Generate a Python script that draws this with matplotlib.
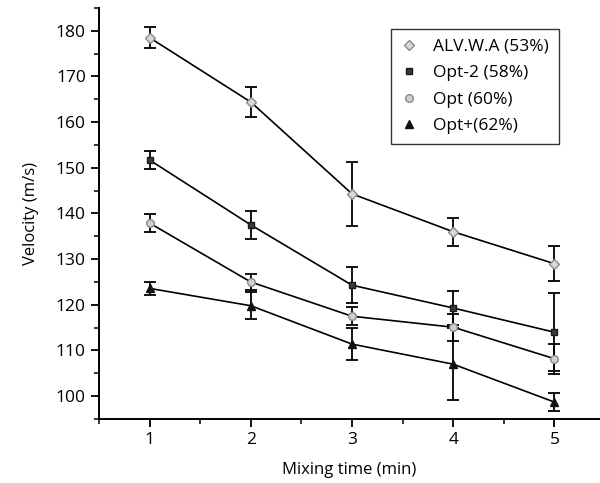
import numpy as np
import matplotlib

matplotlib.use("Agg")
import matplotlib.pyplot as plt
from matplotlib.lines import Line2D
from matplotlib.ticker import MultipleLocator

mix_time = [1, 2, 3, 4, 5]
series_names = ["ALV.W.A (53%)", "Opt-2 (58%)", "Opt (60%)", "Opt+(62%)"]
alv = [178.5, 164.4, 144.3, 136.0, 129.0]
alv_err = [2.3, 3.2, 7.0, 3.1, 3.8]
opt2 = [151.7, 137.5, 124.3, 119.3, 114.0]
opt2_err = [2.0, 3.0, 4.0, 3.7, 8.5]
opt = [137.9, 125.0, 117.5, 115.1, 108.2]
opt_err = [2.0, 1.8, 2.0, 3.0, 3.3]
optp = [123.6, 119.8, 111.4, 107.0, 98.7]
optp_err = [1.5, 3.0, 3.5, 7.9, 1.9]

plt.rcParams["font.family"] = ["Open Sans", "DejaVu Sans"]

fig = plt.figure(figsize=(6.0, 4.83), dpi=100)
ax = fig.add_axes([0.165, 0.1325, 0.835, 0.851])

styles = [
    dict(marker="D", mfc="#d8d8d8", mec="#8a8a8a", ms=5),
    dict(marker="s", mfc="#3a3a3a", mec="#1a1a1a", ms=5),
    dict(marker="o", mfc="#d0d0d0", mec="#8a8a8a", ms=5.5),
    dict(marker="^", mfc="#111111", mec="#111111", ms=5.5),
]
handles = []
for vals, errs, name, st in zip([alv, opt2, opt, optp], [alv_err, opt2_err, opt_err, optp_err], series_names, styles):
    ax.errorbar(mix_time, vals, yerr=errs, color="black", lw=1.2, elinewidth=1.3,
                capsize=4, capthick=1.3, **st)
    handles.append(Line2D([], [], ls="none", label=name, **st))

ax.set_xlim(0.5, 5.45)
ax.set_ylim(95, 185)
ax.xaxis.set_major_locator(MultipleLocator(1))
ax.xaxis.set_minor_locator(MultipleLocator(0.5))
ax.yaxis.set_minor_locator(MultipleLocator(5))
ax.set_yticks(np.arange(100, 181, 10))
ax.tick_params(which="major", direction="out", length=6, width=1.3, labelsize=12.5)
ax.tick_params(which="minor", direction="out", length=3.5, width=1.1)
for s in ["top", "right"]:
    ax.spines[s].set_visible(False)
for s in ["left", "bottom"]:
    ax.spines[s].set_linewidth(1.4)

ax.set_xlabel("Mixing time (min)", fontsize=12, labelpad=10)
ax.set_ylabel("Velocity (m/s)", fontsize=12, labelpad=12)

leg = ax.legend(handles=handles, loc="upper right", bbox_to_anchor=(0.935, 0.97), fontsize=12.5,
                frameon=True, fancybox=False, edgecolor="black", handlelength=1.0,
                handletextpad=0.9, borderpad=0.55, labelspacing=0.6)
leg.get_frame().set_linewidth(1.0)

fig.savefig("out.png", dpi=100)
